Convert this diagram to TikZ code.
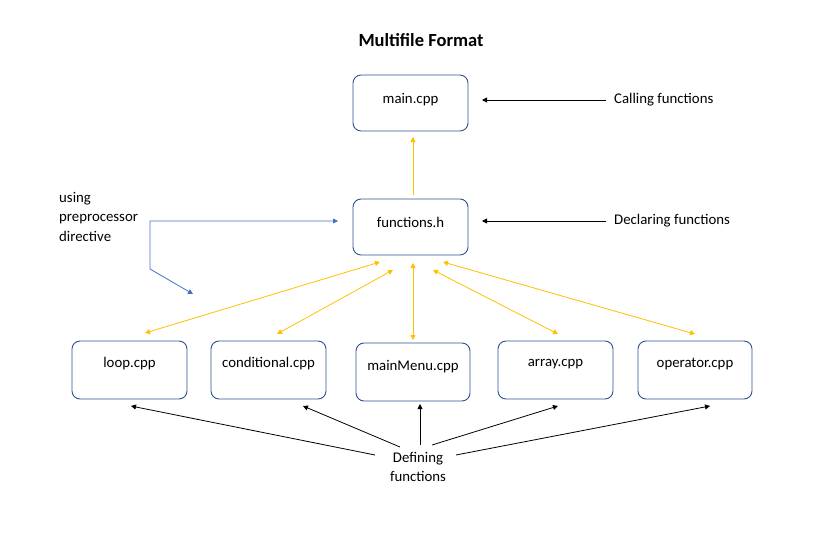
\documentclass[tikz,border=0pt]{standalone}
\usepackage{fontspec}
\setmainfont{Carlito}
\usetikzlibrary{arrows.meta}
\definecolor{boxblue}{HTML}{2F528F}
\definecolor{ylw}{HTML}{FFC000}
\definecolor{lblue}{HTML}{4472C4}
\begin{document}
\begin{tikzpicture}[x=1pt,y=-1pt,
  filebox/.style={draw=boxblue,line width=0.9pt,rounded corners=8pt,fill=white},
  lbl/.style={font=\fontsize{14.8}{17}\selectfont,inner sep=0pt},
  tip/.style={-{Triangle[width=5pt,length=5pt]}},
  dtip/.style={{Triangle[width=5pt,length=5pt]}-{Triangle[width=5pt,length=5pt]}},
  ya/.style={draw=ylw,line width=0.8pt},
  ba/.style={draw=black,line width=0.8pt}]
\useasboundingbox (0,0) rectangle (831,535);
\node[font=\bfseries\fontsize{18.5}{21}\selectfont] (title) at (421,40) {Multifile Format};
% boxes
\path[filebox] (353,75) rectangle (468,131);
\node[lbl] (main) at (410.5,100) {main.cpp};
\path[filebox] (353,199) rectangle (468,255);
\node[lbl] (func) at (410.5,222) {functions.h};
\path[filebox] (72,341) rectangle (187,399);
\node[lbl] (loop) at (129.5,364) {loop.cpp};
\path[filebox] (211,341) rectangle (326,399);
\node[lbl] (cond) at (268.5,364) {conditional.cpp};
\path[filebox] (356,343) rectangle (470,401);
\node[lbl] (menu) at (413,367) {mainMenu.cpp};
\path[filebox] (498,341) rectangle (613,399);
\node[lbl] (arr) at (555.5,364) {array.cpp};
\path[filebox] (638,341) rectangle (752,399);
\node[lbl] (op) at (695,364) {operator.cpp};
% side labels
\node[lbl,anchor=west] (call) at (614,100) {Calling functions};
\node[lbl,anchor=west] (decl) at (614,221) {Declaring functions};
\node[lbl,anchor=north west,align=left,font=\fontsize{14.8}{19.5}\selectfont] (pre) at (59,192) {using\\preprocessor\\directive};
\node[lbl,align=center,font=\fontsize{14.8}{18.5}\selectfont] (def) at (418,467) {Defining\\functions};
% coordinates for connectors
\coordinate (callS) at (606,100); \coordinate (callT) at (482,100);
\coordinate (declS) at (606,221); \coordinate (declT) at (482,221);
\coordinate (fTop) at (413,195); \coordinate (mBot) at (413,137);
\coordinate (b1) at (150,221); \coordinate (b0) at (338,221);
\coordinate (b2) at (150,269); \coordinate (b3) at (193,294);
% black arrows
\draw[ba,tip] (callS) -- (callT);
\draw[ba,tip] (declS) -- (declT);
% yellow up
\draw[ya,tip] (fTop) -- (mBot);
% blue
\draw[draw=lblue,line width=0.8pt,dtip] (b0) -- (b1) -- (b2) -- (b3);
% yellow double arrows
\draw[ya,dtip] (145,333) -- (380,262);
\draw[ya,dtip] (277,334) -- (393,270);
\draw[ya,dtip] (413,340) -- (413,263);
\draw[ya,dtip] (558,334) -- (433,270);
\draw[ya,dtip] (695,334) -- (443,262);
% defining arrows
\draw[ba,tip] (375,455) -- (131,406);
\draw[ba,tip] (400,447) -- (303,406);
\draw[ba,tip] (420,445) -- (420,404);
\draw[ba,tip] (432,445) -- (558,406);
\draw[ba,tip] (456,455) -- (710,406);
\end{tikzpicture}
\end{document}
